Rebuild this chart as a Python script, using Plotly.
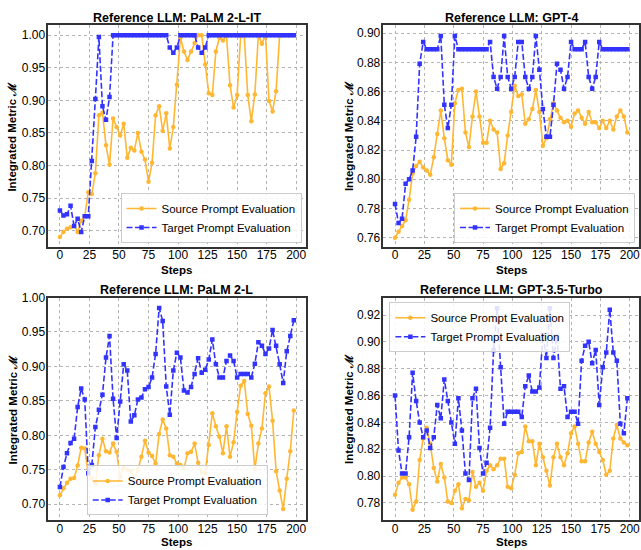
import plotly.graph_objects as go

steps = [0, 3, 6, 9, 12, 15, 18, 21, 24, 27, 30, 33, 36, 39, 42, 45, 48, 51, 54, 57,
         60, 63, 66, 69, 72, 75, 78, 81, 84, 87, 90, 93, 96, 99, 102, 105, 108, 111,
         114, 117, 120, 123, 126, 129, 132, 135, 138, 141, 144, 147, 150, 153, 156,
         159, 162, 165, 168, 171, 174, 177, 180, 183, 186, 189, 192, 195, 198]

palm2_l_it_source = [0.690, 0.698, 0.703, 0.705, 0.707, 0.698, 0.715, 0.722, 0.759, 0.756,
                     0.788, 0.877, 0.881, 0.831, 0.801, 0.872, 0.859, 0.846, 0.864, 0.812,
                     0.827, 0.823, 0.850, 0.821, 0.809, 0.775, 0.804, 0.877, 0.891, 0.853,
                     0.880, 0.826, 0.859, 0.924, 0.996, 0.975, 0.962, 0.975, 0.988, 1.000,
                     1.000, 0.955, 0.911, 0.908, 0.975, 0.996, 0.992, 1.000, 0.923, 0.889,
                     0.908, 1.000, 1.000, 0.908, 0.868, 0.909, 1.000, 0.987, 1.000, 0.899,
                     0.883, 0.914, 1.000, 1.000, 1.000, 1.000, 1.000]
palm2_l_it_target = [0.731, 0.723, 0.725, 0.738, 0.707, 0.718, 0.698, 0.722, 0.722, 0.807,
                     0.902, 0.997, 0.891, 0.870, 0.905, 1.000, 1.000, 1.000, 1.000, 1.000,
                     1.000, 1.000, 1.000, 1.000, 1.000, 1.000, 1.000, 1.000, 1.000, 1.000,
                     1.000, 0.981, 0.973, 0.981, 1.000, 1.000, 1.000, 1.000, 1.000, 0.981,
                     0.973, 0.981, 1.000, 1.000, 1.000, 1.000, 1.000, 1.000, 1.000, 1.000,
                     1.000, 1.000, 1.000, 1.000, 1.000, 1.000, 1.000, 1.000, 1.000, 1.000,
                     1.000, 1.000, 1.000, 1.000, 1.000, 1.000, 1.000]

gpt4_source = [0.760, 0.764, 0.768, 0.772, 0.786, 0.804, 0.809, 0.812, 0.808, 0.806,
               0.803, 0.815, 0.831, 0.847, 0.828, 0.813, 0.810, 0.852, 0.861, 0.862,
               0.832, 0.822, 0.843, 0.860, 0.843, 0.825, 0.825, 0.840, 0.834, 0.832,
               0.807, 0.811, 0.830, 0.846, 0.864, 0.857, 0.858, 0.838, 0.841, 0.848,
               0.861, 0.846, 0.823, 0.828, 0.841, 0.852, 0.847, 0.842, 0.839, 0.840,
               0.836, 0.845, 0.847, 0.842, 0.838, 0.846, 0.839, 0.839, 0.835, 0.840,
               0.835, 0.840, 0.834, 0.843, 0.847, 0.843, 0.832]
gpt4_target = [0.783, 0.770, 0.773, 0.797, 0.800, 0.806, 0.829, 0.879, 0.894, 0.889,
               0.889, 0.889, 0.889, 0.898, 0.851, 0.835, 0.851, 0.898, 0.889, 0.889,
               0.889, 0.889, 0.889, 0.889, 0.889, 0.889, 0.889, 0.894, 0.870, 0.862,
               0.870, 0.898, 0.870, 0.862, 0.870, 0.894, 0.894, 0.870, 0.862, 0.870,
               0.898, 0.875, 0.848, 0.829, 0.829, 0.851, 0.879, 0.875, 0.862, 0.870,
               0.894, 0.889, 0.889, 0.889, 0.894, 0.870, 0.862, 0.870, 0.894, 0.889,
               0.889, 0.889, 0.889, 0.889, 0.889, 0.889, 0.889]

palm2_l_source = [0.713, 0.723, 0.731, 0.737, 0.738, 0.756, 0.782, 0.781, 0.744, 0.738,
                  0.730, 0.771, 0.795, 0.777, 0.775, 0.788, 0.776, 0.739, 0.753, 0.750,
                  0.748, 0.738, 0.750, 0.769, 0.792, 0.775, 0.770, 0.759, 0.802, 0.823,
                  0.810, 0.771, 0.769, 0.759, 0.757, 0.752, 0.774, 0.776, 0.788, 0.760,
                  0.746, 0.745, 0.786, 0.832, 0.813, 0.798, 0.774, 0.813, 0.769, 0.790,
                  0.834, 0.872, 0.879, 0.831, 0.814, 0.751, 0.788, 0.810, 0.861, 0.871,
                  0.821, 0.748, 0.720, 0.693, 0.737, 0.777, 0.836]
palm2_l_target = [0.725, 0.754, 0.774, 0.789, 0.795, 0.841, 0.868, 0.852, 0.745, 0.757,
                  0.812, 0.837, 0.859, 0.913, 0.944, 0.853, 0.796, 0.849, 0.903, 0.894,
                  0.820, 0.829, 0.852, 0.855, 0.867, 0.870, 0.884, 0.918, 0.985, 0.966,
                  0.871, 0.830, 0.894, 0.920, 0.913, 0.865, 0.862, 0.870, 0.889, 0.912,
                  0.891, 0.895, 0.910, 0.939, 0.903, 0.884, 0.884, 0.908, 0.916, 0.908,
                  0.884, 0.889, 0.889, 0.889, 0.884, 0.904, 0.935, 0.930, 0.918, 0.926,
                  0.953, 0.930, 0.903, 0.876, 0.922, 0.944, 0.967]

gpt35_source = [0.786, 0.795, 0.799, 0.799, 0.794, 0.775, 0.781, 0.812, 0.828, 0.836,
                0.824, 0.806, 0.796, 0.809, 0.799, 0.781, 0.780, 0.789, 0.794, 0.776,
                0.783, 0.782, 0.803, 0.792, 0.795, 0.789, 0.804, 0.808, 0.805, 0.808,
                0.813, 0.813, 0.792, 0.791, 0.801, 0.817, 0.818, 0.837, 0.826, 0.826,
                0.808, 0.824, 0.814, 0.804, 0.793, 0.814, 0.824, 0.814, 0.808, 0.817,
                0.832, 0.837, 0.824, 0.811, 0.811, 0.825, 0.833, 0.824, 0.818, 0.812,
                0.801, 0.804, 0.828, 0.838, 0.828, 0.825, 0.823]
gpt35_target = [0.860, 0.819, 0.802, 0.802, 0.829, 0.877, 0.856, 0.840, 0.829, 0.834,
                0.821, 0.829, 0.853, 0.843, 0.872, 0.856, 0.840, 0.824, 0.858, 0.834,
                0.802, 0.797, 0.858, 0.865, 0.821, 0.802, 0.810, 0.836, 0.894, 0.925,
                0.881, 0.839, 0.848, 0.848, 0.848, 0.848, 0.844, 0.867, 0.875, 0.863,
                0.863, 0.866, 0.905, 0.888, 0.925, 0.888, 0.904, 0.865, 0.867, 0.844,
                0.848, 0.848, 0.839, 0.886, 0.897, 0.900, 0.884, 0.894, 0.853, 0.881,
                0.892, 0.924, 0.892, 0.886, 0.839, 0.832, 0.858]

titles = ["Reference LLM: PaLM 2-L-IT", "Reference LLM: GPT-4",
          "Reference LLM: PaLM 2-L", "Reference LLM: GPT-3.5-Turbo"]
x_ticks = [0, 25, 50, 75, 100, 125, 150, 175, 200]
y_ticks_a = [0.70, 0.75, 0.80, 0.85, 0.90, 0.95, 1.00]
y_ticks_b = [0.76, 0.78, 0.80, 0.82, 0.84, 0.86, 0.88, 0.90]
y_ticks_d = [0.78, 0.80, 0.82, 0.84, 0.86, 0.88, 0.90, 0.92]
source_name = "Source Prompt Evaluation"
target_name = "Target Prompt Evaluation"
x_label = "Steps"
y_label = "Integrated Metric ℳ"

W, H = 641, 550
FONT = "Liberation Sans, Arial, Helvetica, sans-serif"
ORANGE = "#FFB733"
BLUE = "#3333FF"

panels = [
    dict(src=palm2_l_it_source, tgt=palm2_l_it_target, xd=(48.3, 306.0), yd=(18.3, 243.3),
         yr=[0.6745, 1.0155], yt=y_ticks_a, title=titles[0],
         leg=dict(x=302 / W, y=1 - 239 / H, xanchor="right", yanchor="bottom")),
    dict(src=gpt4_source, tgt=gpt4_target, xd=(384.0, 640.0), yd=(18.3, 243.3),
         yr=[0.7535, 0.9055], yt=y_ticks_b, title=titles[1],
         leg=dict(x=636 / W, y=1 - 239 / H, xanchor="right", yanchor="bottom")),
    dict(src=palm2_l_source, tgt=palm2_l_target, xd=(48.3, 306.0), yd=(294.3, 520.0),
         yr=[0.6765, 1.0], yt=y_ticks_a, title=titles[2],
         leg=dict(x=177.5 / W, y=1 - 515 / H, xanchor="center", yanchor="bottom")),
    dict(src=gpt35_source, tgt=gpt35_target, xd=(384.0, 640.0), yd=(294.3, 520.0),
         yr=[0.767, 0.933], yt=y_ticks_d, title=titles[3],
         leg=dict(x=390 / W, y=1 - 299 / H, xanchor="left", yanchor="top")),
]

fig = go.Figure()
annotations = []
layout = {}
for i, p in enumerate(panels):
    n = "" if i == 0 else str(i + 1)
    legname = "legend" + n
    fig.add_trace(go.Scatter(
        x=steps, y=p["src"], name=source_name, mode="lines+markers",
        line=dict(color=ORANGE, width=1.6),
        marker=dict(symbol="circle", size=4.5, color=ORANGE),
        xaxis="x" + n, yaxis="y" + n, legend=legname))
    fig.add_trace(go.Scatter(
        x=steps, y=p["tgt"], name=target_name, mode="lines+markers",
        line=dict(color=BLUE, width=1.6, dash="6px,2.5px"),
        marker=dict(symbol="square", size=4.5, color=BLUE),
        xaxis="x" + n, yaxis="y" + n, legend=legname))
    axis_common = dict(showgrid=True, gridcolor="#b4b4b4", griddash="dot", gridwidth=1,
                       showline=True, mirror=True, linecolor="#333333", linewidth=1.5,
                       ticks="", zeroline=False,
                       tickfont=dict(family=FONT, size=12, color="#000000"))
    layout["xaxis" + n] = dict(domain=[p["xd"][0] / W, p["xd"][1] / W],
                               range=[-9.9, 207.9], tickvals=x_ticks,
                               anchor="y" + n, ticklabelstandoff=-4, **axis_common)
    layout["yaxis" + n] = dict(domain=[1 - p["yd"][1] / H, 1 - p["yd"][0] / H],
                               range=p["yr"], tickvals=p["yt"], tickformat=".2f",
                               anchor="x" + n, ticklabelstandoff=-1, **axis_common)
    layout[legname] = dict(bgcolor="rgba(255,255,255,0.85)", bordercolor="#cccccc",
                           borderwidth=1, font=dict(family=FONT, size=11.5, color="#000000"),
                           itemwidth=30, tracegroupgap=0, **p["leg"])
    xc = (p["xd"][0] + p["xd"][1]) / 2
    yc = (p["yd"][0] + p["yd"][1]) / 2
    title_y = 11 if i < 2 else 287
    steps_y = 266 if i < 2 else 542
    ylab_x = 12.5 if i % 2 == 0 else 349.5
    annotations.append(dict(text="<b>%s</b>" % p["title"], x=xc / W, y=1 - title_y / H,
                            xref="paper", yref="paper", xanchor="center", yanchor="middle",
                            showarrow=False, font=dict(family=FONT, size=12.5, color="#000")))
    annotations.append(dict(text="<b>%s</b>" % x_label, x=xc / W, y=1 - steps_y / H,
                            xref="paper", yref="paper", xanchor="center", yanchor="middle",
                            showarrow=False, font=dict(family=FONT, size=11.5, color="#000")))
    annotations.append(dict(text="<b>%s</b>" % y_label, x=ylab_x / W, y=1 - yc / H,
                            xref="paper", yref="paper", xanchor="center", yanchor="middle",
                            textangle=-90, showarrow=False,
                            font=dict(family=FONT, size=11.5, color="#000")))

fig.update_layout(width=W, height=H, margin=dict(l=0, r=0, t=0, b=0),
                  paper_bgcolor="white", plot_bgcolor="white",
                  font=dict(family=FONT), annotations=annotations, **layout)
fig.write_html("out.html", config={"displayModeBar": False},
               post_script="document.body.style.margin='0px';document.body.style.overflow='hidden';")
